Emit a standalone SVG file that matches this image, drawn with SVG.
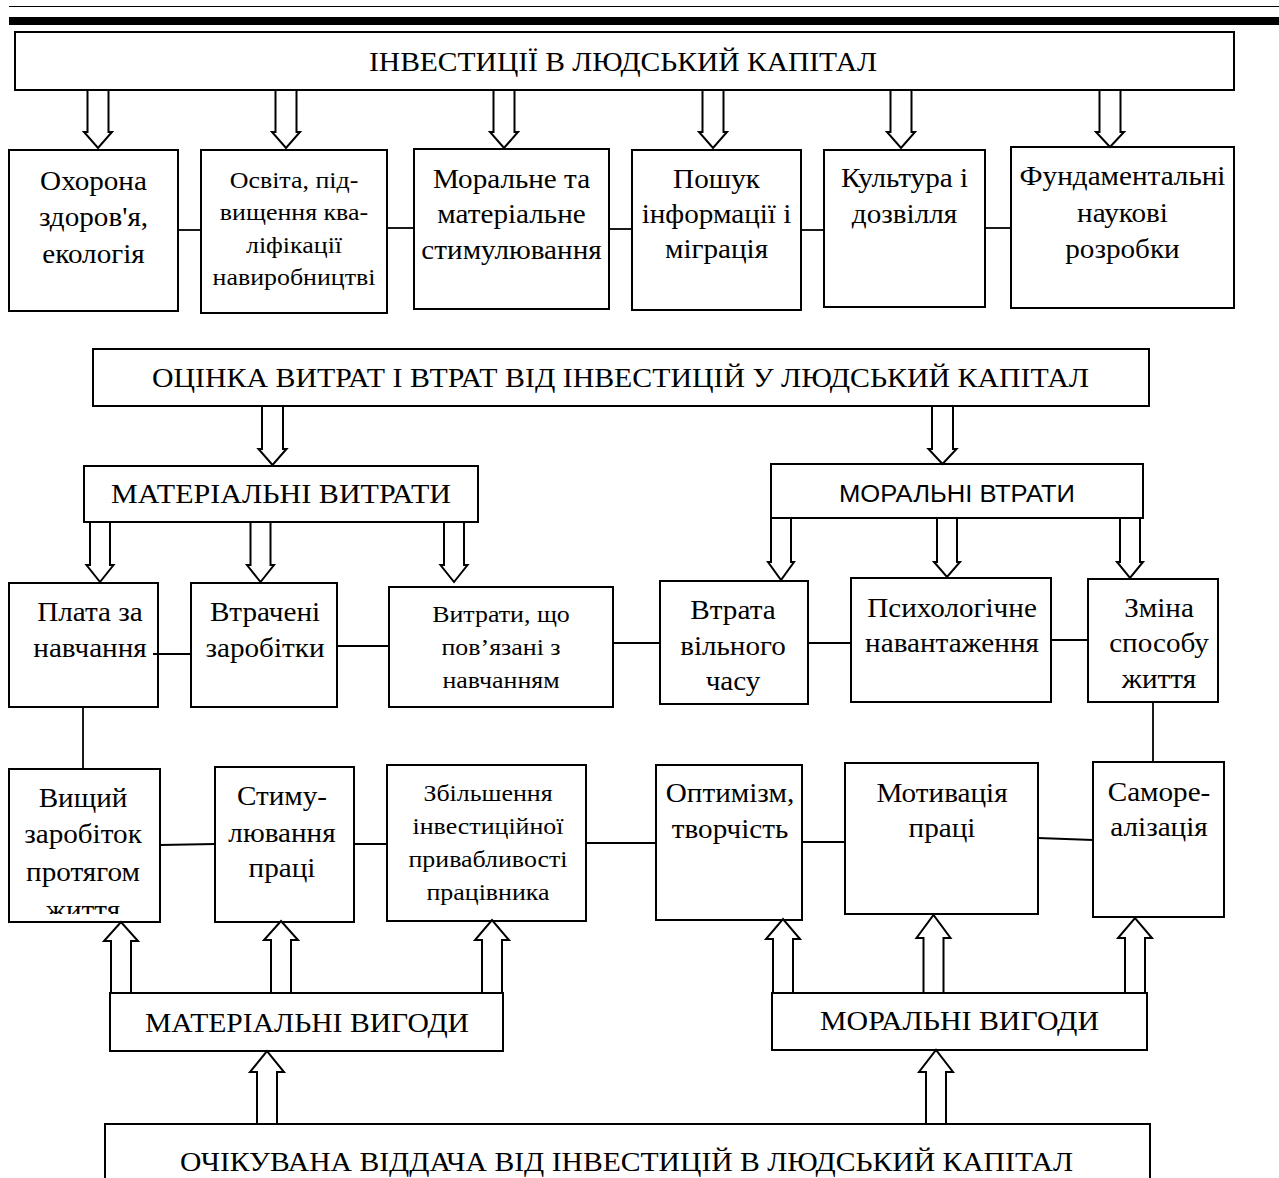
<svg xmlns="http://www.w3.org/2000/svg" width="1279" height="1178" viewBox="0 0 1279 1178">
<style>
.box{fill:#fff;stroke:#000;stroke-width:2}
.arr{fill:#fff;stroke:#000;stroke-width:2;stroke-linejoin:miter}
.ln{stroke:#000;stroke-width:1.8;fill:none}
text{font-family:"Liberation Serif","Times New Roman",serif;font-size:27px;text-anchor:middle;fill:#000}
.s text{font-size:24px}
.sans{font-family:"Liberation Sans",Arial,sans-serif;font-size:23px}
</style>
<defs>
<clipPath id="clipV"><rect x="0" y="760" width="200" height="154"/></clipPath>
</defs>
<g id="header">
<line x1="9" y1="6.5" x2="1279" y2="6.5" stroke="#000" stroke-width="1.2"/>
<rect x="9" y="17" width="1270" height="8" fill="#000"/>
</g>
<g id="n-top"><rect class="box" x="15" y="32" width="1219" height="58"/><text x="623" y="71" textLength="508" lengthAdjust="spacingAndGlyphs">ІНВЕСТИЦІЇ В ЛЮДСЬКИЙ КАПІТАЛ</text></g>
<g id="n-health"><rect class="box" x="9" y="150" width="169" height="161"/><g transform="translate(93.5 0) scale(1.08 1)"><text x="0" y="190">Охорона</text><text x="0" y="226.5">здоров'я,</text><text x="0" y="263">екологія</text></g></g>
<g id="n-edu" class="s"><rect class="box" x="201" y="150" width="186" height="163"/><g transform="translate(294 0) scale(1.08 1)"><text x="0" y="188">Освіта, під-</text><text x="0" y="220.5">вищення ква-</text><text x="0" y="253">ліфікації</text><text x="0" y="285">навиробництві</text></g></g>
<g id="n-stim"><rect class="box" x="414" y="149" width="195" height="160"/><g transform="translate(511.5 0) scale(1.08 1)"><text x="0" y="188">Моральне та</text><text x="0" y="223.5">матеріальне</text><text x="0" y="259">стимулювання</text></g></g>
<g id="n-info"><rect class="box" x="632" y="150" width="169" height="160"/><g transform="translate(716.5 0) scale(1.08 1)"><text x="0" y="188">Пошук</text><text x="0" y="223">інформації і</text><text x="0" y="258">міграція</text></g></g>
<g id="n-cult"><rect class="box" x="824" y="150" width="161" height="157"/><g transform="translate(904.5 0) scale(1.08 1)"><text x="0" y="187">Культура і</text><text x="0" y="223">дозвілля</text></g></g>
<g id="n-fund"><rect class="box" x="1011" y="147" width="223" height="161"/><g transform="translate(1122.5 0) scale(1.08 1)"><text x="0" y="185">Фундаментальні</text><text x="0" y="222">наукові</text><text x="0" y="258">розробки</text></g></g>
<g id="n-eval"><rect class="box" x="93" y="349" width="1056" height="57"/><text x="620.5" y="387" textLength="937" lengthAdjust="spacingAndGlyphs">ОЦІНКА ВИТРАТ І ВТРАТ ВІД ІНВЕСТИЦІЙ У ЛЮДСЬКИЙ КАПІТАЛ</text></g>
<g id="n-matcost"><rect class="box" x="84" y="466" width="394" height="56"/><text x="281" y="503" textLength="340" lengthAdjust="spacingAndGlyphs">МАТЕРІАЛЬНІ ВИТРАТИ</text></g>
<g id="n-morloss"><rect class="box" x="771" y="464" width="372" height="54"/><text class="sans" x="957" y="502" textLength="236" lengthAdjust="spacingAndGlyphs">МОРАЛЬНІ ВТРАТИ</text></g>
<g id="n-fee"><rect class="box" x="9" y="583" width="149" height="124"/><g transform="translate(90 0) scale(1.08 1)"><text x="0" y="621">Плата за</text><text x="0" y="657">навчання</text></g></g>
<g id="n-lost"><rect class="box" x="191" y="583" width="146" height="124"/><g transform="translate(265 0) scale(1.08 1)"><text x="0" y="621">Втрачені</text><text x="0" y="657">заробітки</text></g></g>
<g id="n-costs" class="s"><rect class="box" x="389" y="587" width="224" height="120"/><g transform="translate(501 0) scale(1.08 1)"><text x="0" y="622">Витрати, що</text><text x="0" y="655">пов’язані з</text><text x="0" y="688">навчанням</text></g></g>
<g id="n-free"><rect class="box" x="660" y="581" width="148" height="123"/><g transform="translate(733 0) scale(1.08 1)"><text x="0" y="619">Втрата</text><text x="0" y="655">вільного</text><text x="0" y="690">часу</text></g></g>
<g id="n-psy"><rect class="box" x="851" y="578" width="200" height="124"/><g transform="translate(952 0) scale(1.08 1)"><text x="0" y="617">Психологічне</text><text x="0" y="652">навантаження</text></g></g>
<g id="n-life"><rect class="box" x="1088" y="579" width="130" height="123"/><g transform="translate(1159 0) scale(1.08 1)"><text x="0" y="617">Зміна</text><text x="0" y="652">способу</text><text x="0" y="688">життя</text></g></g>
<g id="n-high"><rect class="box" x="9" y="769" width="151" height="153"/><g clip-path="url(#clipV)"><g transform="translate(83 0) scale(1.08 1)"><text x="0" y="807">Вищий</text><text x="0" y="843">заробіток</text><text x="0" y="881">протягом</text><text x="0" y="919">життя</text></g></g></g>
<g id="n-labstim"><rect class="box" x="215" y="767" width="139" height="155"/><g transform="translate(282 0) scale(1.08 1)"><text x="0" y="805">Стиму-</text><text x="0" y="842">лювання</text><text x="0" y="877">праці</text></g></g>
<g id="n-attr" class="s"><rect class="box" x="387" y="765" width="199" height="156"/><g transform="translate(488 0) scale(1.08 1)"><text x="0" y="801">Збільшення</text><text x="0" y="834">інвестиційної</text><text x="0" y="867">привабливості</text><text x="0" y="900">працівника</text></g></g>
<g id="n-opt"><rect class="box" x="656" y="765" width="146" height="155"/><g transform="translate(730 0) scale(1.08 1)"><text x="0" y="802">Оптимізм,</text><text x="0" y="838">творчість</text></g></g>
<g id="n-motiv"><rect class="box" x="845" y="763" width="193" height="151"/><g transform="translate(942 0) scale(1.08 1)"><text x="0" y="802">Мотивація</text><text x="0" y="837">праці</text></g></g>
<g id="n-self"><rect class="box" x="1093" y="762" width="131" height="155"/><g transform="translate(1159 0) scale(1.08 1)"><text x="0" y="801">Саморе-</text><text x="0" y="836">алізація</text></g></g>
<g id="n-matben"><rect class="box" x="110" y="993" width="393" height="58"/><text x="307" y="1032" textLength="324" lengthAdjust="spacingAndGlyphs">МАТЕРІАЛЬНІ ВИГОДИ</text></g>
<g id="n-morben"><rect class="box" x="772" y="993" width="375" height="57"/><text x="959.5" y="1030" textLength="279" lengthAdjust="spacingAndGlyphs">МОРАЛЬНІ ВИГОДИ</text></g>
<g id="n-return"><path class="box" d="M105,1182 V1124 H1150 V1182"/><text x="626.5" y="1171" textLength="893" lengthAdjust="spacingAndGlyphs">ОЧІКУВАНА ВІДДАЧА ВІД ІНВЕСТИЦІЙ В ЛЮДСЬКИЙ КАПІТАЛ</text></g>
<g id="connectors">
<path class="arr" d="M87.5,90 V132 H84 L98,148 L112,132 H108.5 V90 Z"/>
<path class="arr" d="M275.5,90 V132 H272 L286,148 L300,132 H296.5 V90 Z"/>
<path class="arr" d="M493.5,90 V132 H490 L504,148 L518,132 H514.5 V90 Z"/>
<path class="arr" d="M702.5,90 V132 H699 L713,148 L727,132 H723.5 V90 Z"/>
<path class="arr" d="M890.5,90 V132 H887 L901,148 L915,132 H911.5 V90 Z"/>
<path class="arr" d="M1099.5,90 V132 H1096 L1110,147 L1124,132 H1120.5 V90 Z"/>
<path class="arr" d="M262,406 V449 H258.5 L272.5,465 L286.5,449 H283 V406 Z"/>
<path class="arr" d="M932,406 V449 H928.5 L942.5,464 L956.5,449 H953 V406 Z"/>
<path class="arr" d="M90,522 V565 H86.5 L100,582 L113.5,565 H110 V522 Z"/>
<path class="arr" d="M250.5,522 V565 H247 L260.5,582 L274,565 H270.5 V522 Z"/>
<path class="arr" d="M444,522 V565 H440.5 L454,582 L467.5,565 H464 V522 Z"/>
<path class="arr" d="M771,518 V562 H768 L781,580 L794,562 H791 V518 Z"/>
<path class="arr" d="M937,518 V562 H934 L947,577 L960,562 H957 V518 Z"/>
<path class="arr" d="M1120,518 V562 H1117 L1130,578 L1143,562 H1140 V518 Z"/>
<path class="arr" d="M111,993 V941 H104 L121,922 L138,941 H131 V993 Z"/>
<path class="arr" d="M271,993 V940 H264 L281,921 L298,940 H291 V993 Z"/>
<path class="arr" d="M482,993 V940 H475 L492,920 L509,940 H502 V993 Z"/>
<path class="arr" d="M773,993 V939 H766 L783,919 L800,939 H793 V993 Z"/>
<path class="arr" d="M923.5,993 V938 H916.5 L933.5,915 L950.5,938 H943.5 V993 Z"/>
<path class="arr" d="M1125,993 V938 H1118 L1135,918 L1152,938 H1145 V993 Z"/>
<path class="arr" d="M257,1124 V1072 H250 L267,1051 L284,1072 H277 V1124 Z"/>
<path class="arr" d="M926,1124 V1072 H919 L936,1050 L953,1072 H946 V1124 Z"/>
<line class="ln" x1="178" y1="230" x2="201" y2="230"/>
<line class="ln" x1="387" y1="228" x2="414" y2="228"/>
<line class="ln" x1="609" y1="229" x2="632" y2="229"/>
<line class="ln" x1="801" y1="230" x2="824" y2="230"/>
<line class="ln" x1="985" y1="228" x2="1011" y2="228"/>
<line class="ln" x1="153" y1="654" x2="191" y2="654"/>
<line class="ln" x1="337" y1="646" x2="389" y2="646"/>
<line class="ln" x1="613" y1="643" x2="660" y2="643"/>
<line class="ln" x1="808" y1="643" x2="851" y2="643"/>
<line class="ln" x1="1051" y1="640" x2="1088" y2="640"/>
<line class="ln" x1="83" y1="707" x2="83" y2="769"/>
<line class="ln" x1="1153" y1="702" x2="1153" y2="762"/>
<line class="ln" x1="160" y1="845" x2="215" y2="844"/>
<line class="ln" x1="354" y1="844" x2="387" y2="844"/>
<line class="ln" x1="586" y1="843" x2="656" y2="843"/>
<line class="ln" x1="802" y1="842" x2="845" y2="842"/>
<line class="ln" x1="1038" y1="838" x2="1093" y2="840"/>
</g>
</svg>
